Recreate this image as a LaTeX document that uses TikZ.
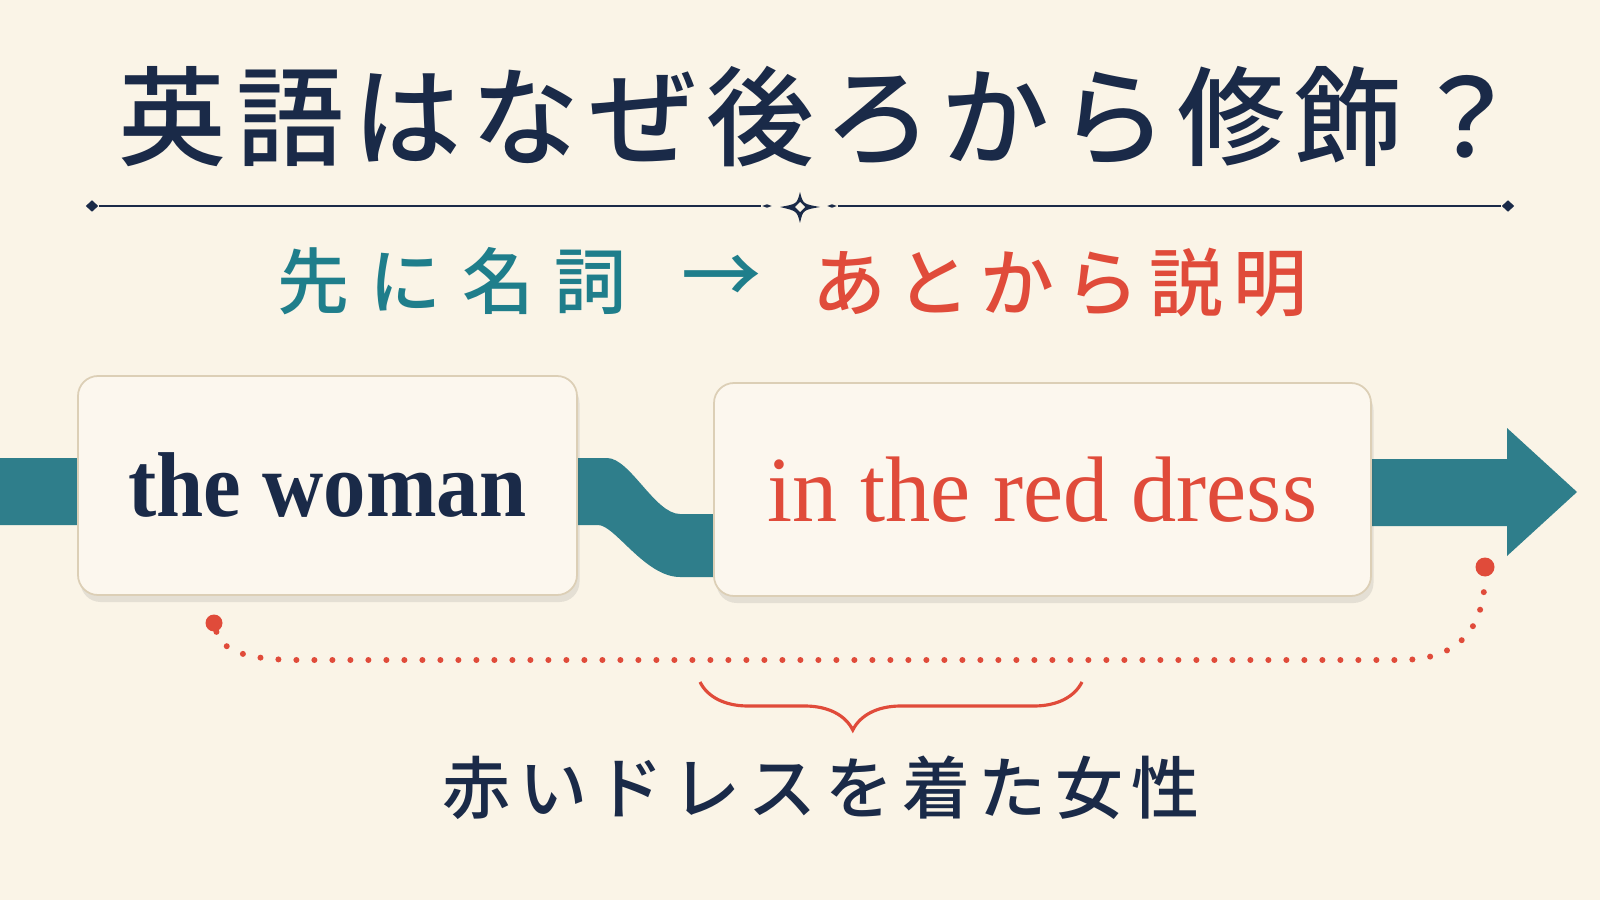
\documentclass[tikz,border=0pt]{standalone}
\usepackage{fontspec}
\usepackage{graphicx}
\setmainfont{Liberation Serif}
\newfontfamily\jpfont{Noto Sans CJK JP}
\newfontfamily\jpmid{Noto Sans CJK JP Medium}
\usetikzlibrary{positioning, shapes.geometric, shadows, backgrounds, decorations.pathreplacing}

\definecolor{paper}{HTML}{FAF4E7}
\definecolor{card}{HTML}{FCF7EE}
\definecolor{cardedge}{HTML}{DCCFB6}
\definecolor{ink}{HTML}{1A2A48}
\definecolor{bandteal}{HTML}{2F7E8B}
\definecolor{subteal}{HTML}{1F7E8B}
\definecolor{accent}{HTML}{E04B3A}

\begin{document}
\begin{tikzpicture}[x=0.1mm, y=-0.1mm,
    card/.style={draw=cardedge, line width=0.5pt, fill=card, rounded corners=2mm, inner sep=0pt,
      drop shadow={shadow xshift=0.25mm, shadow yshift=-0.7mm, opacity=0.12, fill=black!70}},
    jp/.style={anchor=west, inner sep=0pt},
    gem/.style={diamond, fill=ink, inner sep=0pt},
    dotend/.style={circle, fill=accent, inner sep=0pt, minimum size=#1},
    trail/.style={accent, line width=0.6mm, line cap=round, dash pattern=on 0pt off 1.8mm}]
  \begin{scope}[on background layer]
    \fill[paper] (0,0) rectangle (1600,900);
  \end{scope}
  \useasboundingbox (0,0) rectangle (1600,900);

  \node[jp, text=ink, font=\jpmid\fontsize{30.7}{32}\selectfont\addfontfeature{LetterSpace=9}]
    (title) at (118,117) {英語はなぜ後ろから修飾？};

  \node[gem, minimum width=1.3mm, minimum height=1.2mm] (capL) at (92,206) {};
  \node[gem, minimum width=1.3mm, minimum height=1.2mm] (capR) at (1508,206) {};
  \node[gem, minimum width=1mm, minimum height=0.4mm] (pipL) at (767,206) {};
  \node[gem, minimum width=1mm, minimum height=0.4mm] (pipR) at (832,206) {};
  \coordinate (orn) at (800,207);
  \draw[ink, line width=0.6pt] (capL) -- (pipL) (pipR) -- (capR);
  \fill[ink] (orn) ++(0,-15) .. controls +(3,12) .. ++(20,15) .. controls +(-17,3) .. ++(-20,16)
    .. controls +(-3,-12) .. ++(-20,-16) .. controls +(17,-3) .. cycle;
  \fill[paper] (orn) ++(0,-5) -- ++(5,5) -- ++(-5,5) -- ++(-5,-5) -- cycle;

  \node[jp, text=subteal, font=\jpmid\fontsize{20.5}{24}\selectfont\addfontfeature{LetterSpace=28}]
    (first) at (277,281) {先に名詞};
  \node[text=subteal, inner sep=0pt, font=\jpmid\fontsize{22.8}{24}\selectfont] (then) at (722,280) {→};
  \node[jp, text=accent, font=\jpmid\fontsize{21}{24}\selectfont\addfontfeature{LetterSpace=14}]
    (later) at (812,283) {あとから説明};

  \node[card, minimum width=49.9mm, minimum height=21.9mm, font=\fontsize{26.2}{30}\selectfont\bfseries]
    (noun) at (327.5,485.5) {\scalebox{0.92}[1]{\textcolor{ink}{the woman}}};
  \node[card, minimum width=65.7mm, minimum height=21.3mm, font=\fontsize{26.5}{30}\selectfont]
    (mod) at (1042.5,489.5) {\scalebox{0.97}[1]{\textcolor{accent}{in the red dress}}};

  \coordinate (bandin) at (0,458);
  \coordinate (bendtop) at (607,458);
  \coordinate (bendlow) at (680,514);
  \coordinate (tip) at (1577,492);
  \begin{scope}[on background layer]
    \fill[bandteal] (bandin) -- (bendtop) .. controls +(23,0) and +(-25,0) .. (bendlow)
      -- ++(60,0) -- ++(0,63) -- ++(-60,0) .. controls +(-35,0) and +(17,0) .. (598,525)
      -- (0,525) -- cycle;
    \fill[bandteal] (1350,459) -- (1507,459) -- (1507,428) -- (tip) -- (1507,556) -- (1507,526)
      -- (1350,526) -- cycle;
  \end{scope}

  \node[dotend=1.7mm] (from) at (214,623) {};
  \node[dotend=1.9mm] (to) at (1485,567) {};
  \draw[trail] (from) .. controls (222,652) and (250,660) .. (300,660) -- (1400,660)
    .. controls (1462,660) and (1484,625) .. (to);

  \coordinate (braceL) at (700,682);
  \coordinate (braceR) at (1082,682);
  \draw[accent, line width=0.9pt, decorate, decoration={brace, mirror, amplitude=4.8mm, aspect=0.4}]
    (braceL) -- (braceR);

  \node[jp, text=ink, font=\jpmid\fontsize{19.35}{22}\selectfont\addfontfeature{LetterSpace=12.6}]
    (gloss) at (442,788) {赤いドレスを着た女性};
\end{tikzpicture}
\end{document}
